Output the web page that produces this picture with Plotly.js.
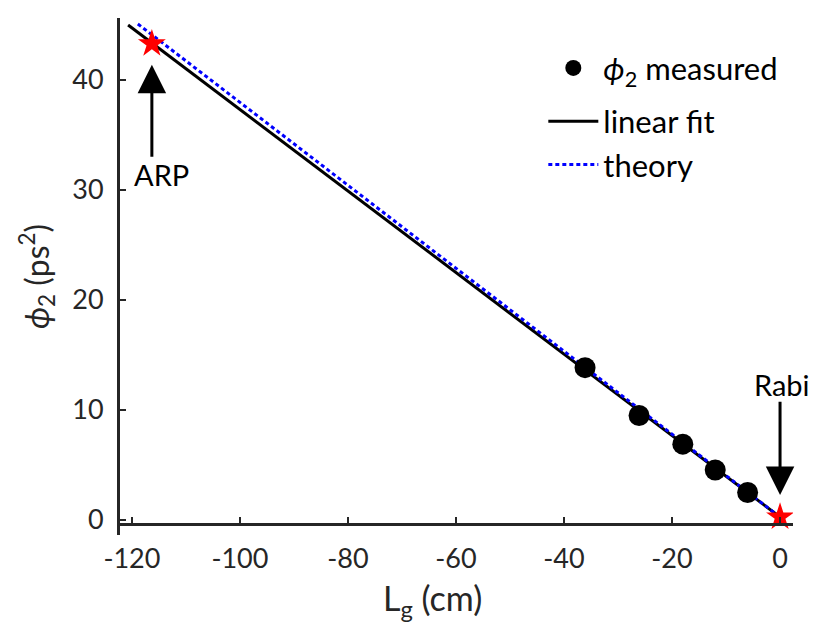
<!DOCTYPE html>
<html>
<head>
<meta charset="utf-8">
<script src="https://cdn.plot.ly/plotly-3.0.1.min.js"></script>
<style>
  html, body { margin: 0; padding: 0; background: #fff; }
  #plot { width: 830px; height: 634px; }
</style>
</head>
<body>
<div id="plot"></div>
<script>
// measured phi2 values against grating length
const measX = [-36.1, -26.1, -18.0, -12.0, -6.0];
const measY = [13.85, 9.5, 6.9, 4.55, 2.5];

// linear fit and theory lines (end points)
const fitX = [-120.7, 0];
const fitY = [45.0, 0.27];
const theoryX = [-118.9, 0];
const theoryY = [45.1, 0.27];

// ARP and Rabi operating points
const starX = [-116.3, 0];
const starY = [43.3, 0.27];

const xTicks = [-120, -100, -80, -60, -40, -20, 0];
const yTicks = [0, 10, 20, 30, 40];

const ink = "#262626";
const font = "Lato, 'Open Sans', sans-serif";

const traces = [
	{
		x: fitX, y: fitY, type: "scatter", mode: "lines",
		name: "linear fit", legendrank: 2, legendgroup: "b",
		line: { color: "#000", width: 3 },
	},
	{
		x: theoryX, y: theoryY, type: "scatter", mode: "lines",
		name: "theory", legendrank: 3, legendgroup: "b",
		line: { color: "#0000ff", width: 3, dash: "4px,3px" },
	},
	{
		x: measX, y: measY, type: "scatter", mode: "markers",
		name: "<i>ϕ</i><sub>2</sub> measured", legendrank: 1, legendgroup: "a",
		marker: { color: "#000", size: 21 },
	},
	{
		x: starX, y: starY, type: "scatter", mode: "markers",
		showlegend: false,
		marker: { color: "#ff0000", size: 21, symbol: "star", line: { width: 0 } },
	},
];

function arrow(xh, yh, yt) {
	return {
		x: xh, y: yh, ax: xh, ay: yt, xref: "x", yref: "y", axref: "x", ayref: "y",
		text: "", showarrow: true, arrowhead: 2, arrowsize: 1.9, arrowwidth: 3,
		arrowcolor: "#000", standoff: 0, startstandoff: 0,
	};
}

function label(x, y, text) {
	return {
		x, y, xref: "x", yref: "y", text, showarrow: false,
		font: { family: font, size: 29, color: "#000" },
	};
}

const layout = {
	width: 830,
	height: 634,
	margin: { l: 120, r: 37, t: 18, b: 99 },
	paper_bgcolor: "#fff",
	plot_bgcolor: "#fff",
	font: { family: font, size: 27, color: ink },
	showlegend: true,
	legend: {
		x: 0.629, y: 0.955, xanchor: "left", yanchor: "top",
		bgcolor: "rgba(0,0,0,0)", font: { family: font, size: 31, color: "#000" },
		tracegroupgap: 10, itemwidth: 50, traceorder: "grouped",
	},
	xaxis: {
		range: [-122.2, 2.4],
		tickvals: xTicks,
		ticktext: xTicks.map(String),
		anchor: "free", position: 0.0213,
		showgrid: false, zeroline: false,
		showline: true, linecolor: ink, linewidth: 3,
		ticks: "inside", ticklen: 6, tickwidth: 2, tickcolor: ink,
		ticklabelstandoff: 10,
	},
	yaxis: {
		range: [-1.36, 45.64],
		tickvals: yTicks,
		ticktext: yTicks.map(String),
		showgrid: false, zeroline: false,
		showline: true, linecolor: ink, linewidth: 3,
		ticks: "inside", ticklen: 6, tickwidth: 2, tickcolor: ink,
		ticklabelstandoff: 8,
		title: { text: "<i>ϕ</i><sub>2</sub> (ps<sup>2</sup>)", font: { family: font, size: 32, color: ink }, standoff: 14 },
	},
	annotations: [
		arrow(-116.3, 41.4, 32.9),
		arrow(0, 2.27, 10.9),
		label(-114.6, 31.4, "ARP"),
		label(0.4, 12.3, "Rabi"),
		{
			x: 0.4636, y: -0.125, xref: "paper", yref: "paper",
			xanchor: "center", yanchor: "middle", showarrow: false,
			text: "L<sub>g</sub> (cm)",
			font: { family: font, size: 34, color: ink },
		},
	],
};

Plotly.newPlot("plot", traces, layout, { displayModeBar: false, staticPlot: true });
</script>
</body>
</html>
